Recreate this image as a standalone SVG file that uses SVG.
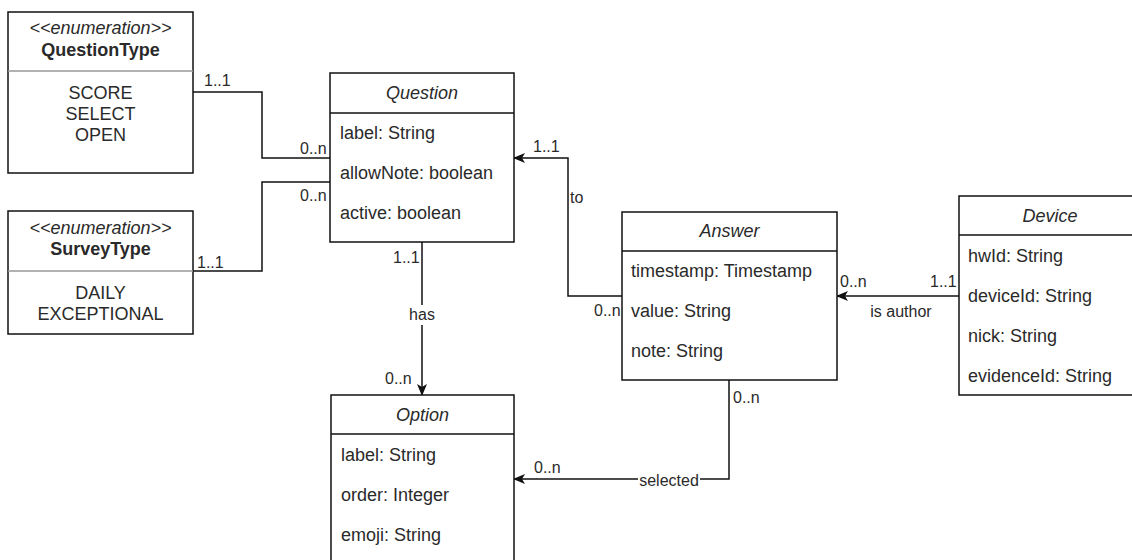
<svg xmlns="http://www.w3.org/2000/svg" width="1132" height="560" viewBox="0 0 1132 560">
  <style>
    text { font-family: "Liberation Sans", Arial, Helvetica, sans-serif; fill: #2a2a2a; dominant-baseline: central; }
    .box { fill: #fff; stroke: #111; stroke-width: 1.5; }
    .sep { stroke: #111; stroke-width: 1.5; }
    .sep-light { stroke: #999; stroke-width: 1.5; }
    .title { font-size: 18px; font-style: italic; text-anchor: middle; }
    .stereo { font-size: 18px; font-style: italic; text-anchor: middle; }
    .name { font-size: 18px; font-weight: bold; text-anchor: middle; }
    .lit { font-size: 18px; text-anchor: middle; }
    .attr { font-size: 18px; }
    .edge { fill: none; stroke: #111; stroke-width: 1.5; }
    .lbl { font-size: 16px; }
    .mid { font-size: 16px; text-anchor: middle; }
  </style>
  <defs>
    <marker id="arrow" viewBox="0 0 12 10" refX="11" refY="5" markerWidth="12" markerHeight="10" markerUnits="userSpaceOnUse" orient="auto">
      <path d="M0,0 L12,5 L0,10 L3,5 Z" fill="#111"/>
    </marker>
  </defs>

  <!-- associations -->
  <g id="connectors">
    <polyline class="edge" points="193,92 262,92 262,158 330,158"/>
    <text class="lbl" x="204" y="80">1..1</text>
    <text class="lbl" x="300" y="148">0..n</text>

    <polyline class="edge" points="193,271 262,271 262,182 330,182"/>
    <text class="lbl" x="197" y="262">1..1</text>
    <text class="lbl" x="300" y="195">0..n</text>

    <polyline class="edge" points="622,296 568,296 568,158 514,158" marker-end="url(#arrow)"/>
    <text class="lbl" x="533" y="146">1..1</text>
    <text class="lbl" x="570" y="197">to</text>
    <text class="lbl" x="594" y="310">0..n</text>

    <line class="edge" x1="959" y1="296" x2="837" y2="296" marker-end="url(#arrow)"/>
    <text class="lbl" x="840" y="281">0..n</text>
    <text class="lbl" x="930" y="281">1..1</text>
    <text class="mid" x="901" y="311">is author</text>

    <line class="edge" x1="422" y1="242" x2="422" y2="395" marker-end="url(#arrow)"/>
    <text class="lbl" x="393" y="257">1..1</text>
    <rect x="408" y="305" width="28" height="20" fill="#fff"/>
    <text class="mid" x="422" y="314">has</text>
    <text class="lbl" x="385" y="378">0..n</text>

    <polyline class="edge" points="729,380 729,479 514,479" marker-end="url(#arrow)"/>
    <text class="lbl" x="733" y="397">0..n</text>
    <text class="lbl" x="534" y="467">0..n</text>
    <rect x="638" y="470" width="62" height="20" fill="#fff"/>
    <text class="mid" x="669" y="480">selected</text>
  </g>

  <g id="QuestionType">
    <rect class="box" x="8" y="12" width="185" height="161"/>
    <line class="sep-light" x1="8" y1="71" x2="193" y2="71"/>
    <text class="stereo" x="100.5" y="28">&lt;&lt;enumeration&gt;&gt;</text>
    <text class="name" x="100.5" y="50">QuestionType</text>
    <text class="lit" x="100.5" y="93">SCORE</text>
    <text class="lit" x="100.5" y="114">SELECT</text>
    <text class="lit" x="100.5" y="135">OPEN</text>
  </g>

  <g id="SurveyType">
    <rect class="box" x="8" y="211" width="185" height="123"/>
    <line class="sep-light" x1="8" y1="271" x2="193" y2="271"/>
    <text class="stereo" x="100.5" y="228">&lt;&lt;enumeration&gt;&gt;</text>
    <text class="name" x="100.5" y="249">SurveyType</text>
    <text class="lit" x="100.5" y="293">DAILY</text>
    <text class="lit" x="100.5" y="314">EXCEPTIONAL</text>
  </g>

  <g id="Question">
    <rect class="box" x="330" y="73" width="184" height="169"/>
    <line class="sep" x1="330" y1="113" x2="514" y2="113"/>
    <text class="title" x="422" y="93">Question</text>
    <text class="attr" x="340" y="133">label: String</text>
    <text class="attr" x="340" y="173">allowNote: boolean</text>
    <text class="attr" x="340" y="213">active: boolean</text>
  </g>

  <g id="Answer">
    <rect class="box" x="622" y="212" width="215" height="168"/>
    <line class="sep" x1="622" y1="251" x2="837" y2="251"/>
    <text class="title" x="729.5" y="231">Answer</text>
    <text class="attr" x="631" y="271">timestamp: Timestamp</text>
    <text class="attr" x="631" y="311">value: String</text>
    <text class="attr" x="631" y="351">note: String</text>
  </g>

  <g id="Device">
    <rect class="box" x="959" y="196" width="182" height="199"/>
    <line class="sep" x1="959" y1="235" x2="1141" y2="235"/>
    <text class="title" x="1050" y="216">Device</text>
    <text class="attr" x="968" y="256">hwId: String</text>
    <text class="attr" x="968" y="296">deviceId: String</text>
    <text class="attr" x="968" y="336">nick: String</text>
    <text class="attr" x="968" y="376">evidenceId: String</text>
  </g>

  <g id="Option">
    <rect class="box" x="331" y="395" width="183" height="180"/>
    <line class="sep" x1="331" y1="434" x2="514" y2="434"/>
    <text class="title" x="422.5" y="415">Option</text>
    <text class="attr" x="341" y="455">label: String</text>
    <text class="attr" x="341" y="495">order: Integer</text>
    <text class="attr" x="341" y="535">emoji: String</text>
  </g>
</svg>
